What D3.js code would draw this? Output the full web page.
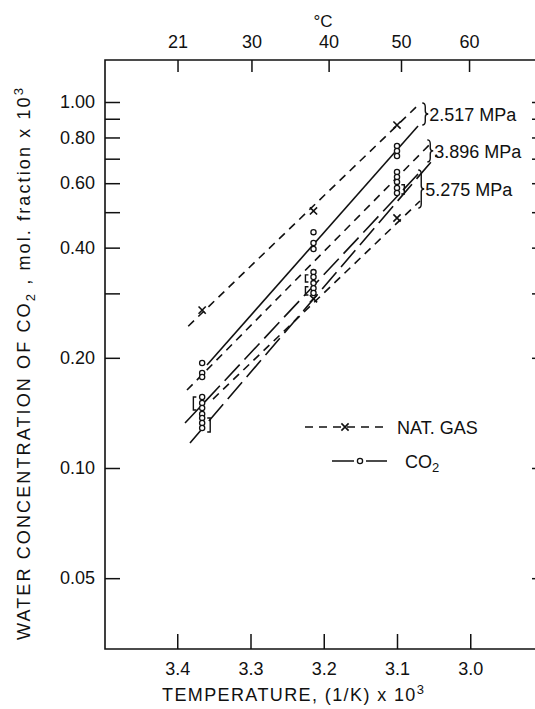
<!DOCTYPE html>
<html lang="en">
<head>
<meta charset="UTF-8" />
<title>Water concentration of CO2</title>
<script src="https://cdn.jsdelivr.net/npm/d3@7"></script>
<style>
  body { margin: 0; background: #fff; }
  svg text { font-family: "Liberation Sans", Arial, sans-serif; fill: #111; }
</style>
</head>
<body>
<div id="chart"></div>
<script>
// axis ticks
const invTempTicks = [3.4, 3.3, 3.2, 3.1, 3.0];
const celsiusTicks = [21, 30, 40, 50, 60];
const yLabelTicks = [0.05, 0.1, 0.2, 0.4, 0.6, 0.8, 1.0];
const yMinorTicks = [0.3, 0.5, 0.7, 0.9];

// measured points (x = 1000/T, y = mol fraction x 10^3)
const natGasX = [3.366, 3.214, 3.214, 3.1, 3.1];
const natGasY = [0.27, 0.504, 0.29, 0.865, 0.482];
const co2X = [3.366, 3.366, 3.366, 3.366, 3.366, 3.366, 3.366, 3.366, 3.366, 3.366,
              3.214, 3.214, 3.214, 3.214, 3.214, 3.214, 3.214, 3.214,
              3.1, 3.1, 3.1, 3.1, 3.1, 3.1, 3.1, 3.1];
const co2Y = [0.1935, 0.1818, 0.1773, 0.1563, 0.1505, 0.1459, 0.1404, 0.137, 0.1327, 0.1286,
              0.441, 0.412, 0.3966, 0.343, 0.3325, 0.32, 0.31, 0.3007,
              0.758, 0.735, 0.712, 0.644, 0.624, 0.605, 0.582, 0.564];

// fitted lines, one per gas and pressure: [x0, y0, x1, y1]
const lineNames = ["ng2517", "co22517", "ng3896", "co23896", "co25275", "ng5275"];
const lineGas = ["ng", "co2solid", "ng", "co2", "co2", "ng"];
const lineEnds = [
  [3.385, 0.244, 3.071, 0.981],
  [3.3594, 0.1911, 3.0713, 0.86],
  [3.3867, 0.1633, 3.0522, 0.777],
  [3.3826, 0.117, 3.0454, 0.7164],
  [3.3894, 0.1327, 3.0686, 0.644],
  [3.3512, 0.1543, 3.0686, 0.5364]
];

// pressure labels with their braces: x, y top, y bottom
const pressureLabels = ["2.517 MPa", "3.896 MPa", "5.275 MPa"];
const braceX = [3.0655, 3.0587, 3.071];
const braceTop = [0.994, 0.788, 0.652];
const braceBottom = [0.865, 0.686, 0.513];

// small square brackets next to point columns: x, y top, y bottom, facing
const bracketX = [3.378, 3.355, 3.225, 3.225, 3.09];
const bracketTop = [0.1563, 0.137, 0.337, 0.3127, 0.594];
const bracketBottom = [0.1441, 0.1254, 0.3222, 0.297, 0.5608];
const bracketOpen = ["[", "]", "[", "[", "]"];

const W = 535, H = 709;
const frameTop = 60, frameBottom = 649, frameLeft = 105;

const svg = d3.select("#chart").append("svg")
  .attr("width", W).attr("height", H);

const x = d3.scaleLinear().domain([3.5, 2.9]).range([104, 543.5]);
const y = d3.scaleLog().domain([0.1, 1]).range([468, 102]);

const ink = "#111";

// frame
svg.append("path")
  .attr("d", `M${W},${frameTop} H${frameLeft} V${frameBottom} H${W}`)
  .attr("fill", "none").attr("stroke", ink).attr("stroke-width", 1.6);

function styleAxis(g, size) {
  g.select(".domain").remove();
  g.selectAll(".tick line").attr("stroke", ink).attr("stroke-width", 1.5);
  g.selectAll("text").attr("font-size", size).attr("fill", ink);
}

// left axis, ticks pointing inward
svg.append("g")
  .attr("transform", `translate(${frameLeft},0)`)
  .call(d3.axisLeft(y).tickValues(yLabelTicks).tickSize(-15).tickPadding(10)
    .tickFormat(d3.format(".2f")))
  .call(g => styleAxis(g, 18));
svg.append("g")
  .attr("transform", `translate(${frameLeft},0)`)
  .call(d3.axisLeft(y).tickValues(yMinorTicks).tickSize(-15).tickFormat(""))
  .call(g => styleAxis(g, 18));

// right edge ticks (mostly cut off)
svg.append("g")
  .attr("transform", `translate(538,0)`)
  .call(d3.axisRight(y).tickValues(yLabelTicks.concat(yMinorTicks)).tickSize(-6).tickFormat(""))
  .call(g => styleAxis(g, 18));

// bottom axis
svg.append("g")
  .attr("transform", `translate(0,${frameBottom})`)
  .call(d3.axisBottom(x).tickValues(invTempTicks).tickSize(-15).tickPadding(13)
    .tickFormat(d3.format(".1f")))
  .call(g => styleAxis(g, 18));

// top axis in degrees C
svg.append("g")
  .attr("transform", `translate(0,${frameTop})`)
  .call(d3.axisTop(x).tickValues(celsiusTicks.map(c => 1000 / (c + 273.15)))
    .tickSize(-12).tickPadding(12)
    .tickFormat((d, i) => celsiusTicks[i]))
  .call(g => styleAxis(g, 18));

svg.append("text").attr("x", 323).attr("y", 27)
  .attr("text-anchor", "middle").attr("font-size", 17).text("°C");

// axis titles
const xt = svg.append("text").attr("x", 293).attr("y", 701)
  .attr("text-anchor", "middle").attr("font-size", 18)
  .attr("textLength", 262).attr("lengthAdjust", "spacing");
xt.append("tspan").text("TEMPERATURE, (1/K) x 10");
xt.append("tspan").attr("dy", -7).attr("font-size", 13).text("3");

const yt = svg.append("text")
  .attr("transform", "translate(30,364) rotate(-90)")
  .attr("text-anchor", "middle").attr("font-size", 18)
  .attr("textLength", 552).attr("lengthAdjust", "spacing");
yt.append("tspan").text("WATER CONCENTRATION OF CO");
yt.append("tspan").attr("dy", 5).attr("font-size", 13).text("2");
yt.append("tspan").attr("dy", -5).text(" , mol. fraction x 10");
yt.append("tspan").attr("dy", -7).attr("font-size", 13).text("3");

// lines
const plot = svg.append("g");
lineEnds.forEach((e, i) => {
  const dash = lineGas[i] === "ng" ? "8,6" : lineGas[i] === "co2" ? "22,7" : null;
  plot.append("line")
    .attr("x1", x(e[0])).attr("y1", y(e[1]))
    .attr("x2", x(e[2])).attr("y2", y(e[3]))
    .attr("stroke", ink).attr("stroke-width", 1.6)
    .attr("stroke-dasharray", dash)
    .attr("class", lineNames[i]);
});

// CO2 points
plot.selectAll(".co2pt").data(co2Y).enter().append("circle")
  .attr("class", "co2pt")
  .attr("cx", (d, i) => x(co2X[i])).attr("cy", d => y(d))
  .attr("r", 2.6).attr("fill", "#fff").attr("stroke", ink).attr("stroke-width", 1.3);

// natural gas points (x marks)
const s = 3.6;
plot.selectAll(".ngpt").data(natGasY).enter().append("path")
  .attr("class", "ngpt")
  .attr("d", (d, i) => {
    const cx = x(natGasX[i]), cy = y(d);
    return `M${cx - s},${cy - s}L${cx + s},${cy + s}M${cx - s},${cy + s}L${cx + s},${cy - s}`;
  })
  .attr("stroke", ink).attr("stroke-width", 1.6);

// square brackets
bracketX.forEach((bx, i) => {
  const px = x(bx), t = y(bracketTop[i]), b = y(bracketBottom[i]);
  const k = bracketOpen[i] === "[" ? 3 : -3;
  plot.append("path")
    .attr("d", `M${px + k},${t}H${px}V${b}H${px + k}`)
    .attr("fill", "none").attr("stroke", ink).attr("stroke-width", 1.4);
});

// pressure braces and labels
pressureLabels.forEach((lab, i) => {
  const px = x(braceX[i]), t = y(braceTop[i]), b = y(braceBottom[i]);
  const m = (t + b) / 2;
  plot.append("path")
    .attr("d", `M${px},${t}Q${px + 3},${t} ${px + 3},${t + 4}V${m - 3}Q${px + 3},${m} ${px + 6},${m}` +
      `Q${px + 3},${m} ${px + 3},${m + 3}V${b - 4}Q${px + 3},${b} ${px},${b}`)
    .attr("fill", "none").attr("stroke", ink).attr("stroke-width", 1.4);
  svg.append("text").attr("x", px + 7).attr("y", m + 7)
    .attr("font-size", 18).text(lab);
});

// legend
const lg = svg.append("g");
lg.append("line").attr("x1", 305).attr("x2", 385).attr("y1", 427).attr("y2", 427)
  .attr("stroke", ink).attr("stroke-width", 1.6).attr("stroke-dasharray", "8,6");
lg.append("path")
  .attr("d", `M${345 - s},${427 - s}L${345 + s},${427 + s}M${345 - s},${427 + s}L${345 + s},${427 - s}`)
  .attr("stroke", ink).attr("stroke-width", 1.6);
lg.append("text").attr("x", 397).attr("y", 434).attr("font-size", 18).text("NAT. GAS");

lg.append("path").attr("d", "M332,461H354M366,461H387")
  .attr("stroke", ink).attr("stroke-width", 1.6);
lg.append("circle").attr("cx", 360).attr("cy", 461).attr("r", 2.6)
  .attr("fill", "#fff").attr("stroke", ink).attr("stroke-width", 1.3);
const lc = lg.append("text").attr("x", 405).attr("y", 468).attr("font-size", 18);
lc.append("tspan").text("CO");
lc.append("tspan").attr("dy", 4).attr("font-size", 13).text("2");
</script>
</body>
</html>
